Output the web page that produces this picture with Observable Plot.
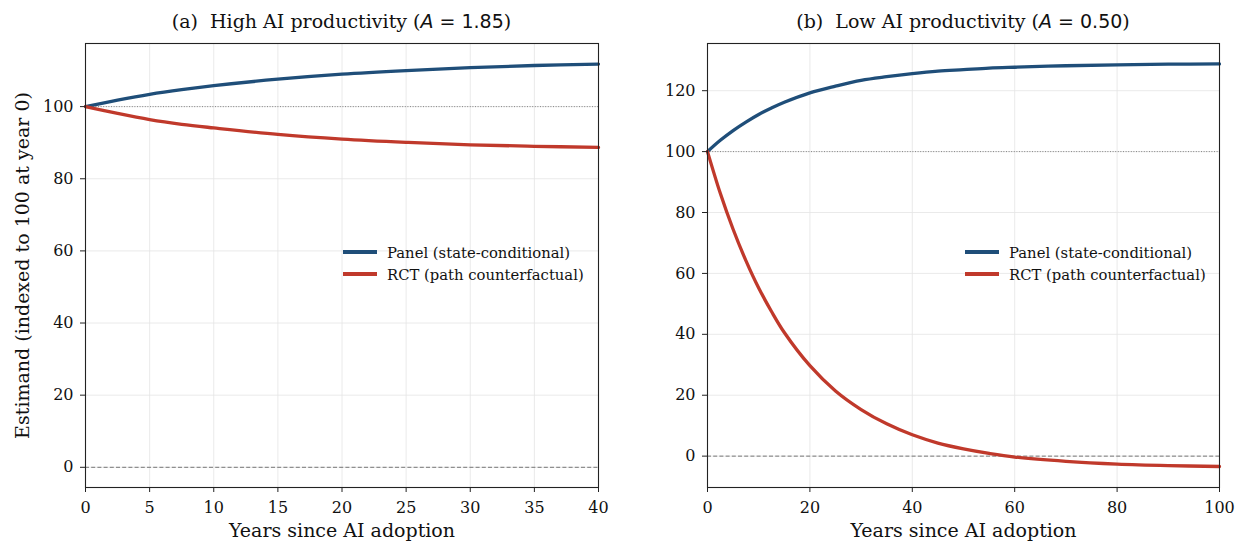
<!DOCTYPE html>
<html>
<head>
<meta charset="utf-8">
<script src="https://cdn.jsdelivr.net/npm/d3@7"></script>
<script src="https://cdn.jsdelivr.net/npm/@observablehq/plot@0.6"></script>
<style>
  html, body { margin: 0; padding: 0; background: #fff; }
  #wrap { position: relative; width: 1238px; height: 541px; overflow: hidden; font-family: 'DejaVu Serif', serif; }
  .pan { position: absolute; top: 0; }
  .title { position: absolute; top: 8px; font-size: 19px; text-align: center; white-space: pre; color: #111; line-height: 26px; }
  .sans { font-family: 'DejaVu Sans', sans-serif; }
  .legend { position: absolute; font-size: 14.8px; color: #111; }
  .legend .row { display: flex; align-items: center; height: 22px; }
  .legend .sw { width: 34px; height: 3.6px; margin-right: 10px; flex: none; }
</style>
</head>
<body>
<div id="wrap"></div>
<script>
// ---- data ----
const yearsA = [0, 2.5, 5, 7.5, 10, 15, 20, 25, 30, 35, 40];
const panelA = [100, 101.8, 103.4, 104.7, 105.8, 107.6, 109.0, 110.0, 110.8, 111.4, 111.8];
const rctA   = [100, 98.1, 96.4, 95.1, 94.1, 92.3, 91.0, 90.1, 89.4, 89.0, 88.7];

const yearsB = [0, 2.5, 5, 7.5, 10, 12.5, 15, 20, 25, 30, 35, 40, 45, 50, 55, 60, 70, 80, 90, 100];
const panelB = [100, 103.7, 106.9, 109.7, 112.2, 114.3, 116.2, 119.3, 121.5, 123.4, 124.6, 125.6, 126.4, 126.9, 127.4, 127.7, 128.2, 128.5, 128.7, 128.8];
const rctB   = [100, 86.3, 74.5, 64.2, 55.2, 47.5, 40.6, 29.7, 21.4, 15.3, 10.6, 7.0, 4.3, 2.4, 0.9, -0.3, -1.7, -2.6, -3.1, -3.4];

const xTicksA = [0, 5, 10, 15, 20, 25, 30, 35, 40];
const yTicksA = [0, 20, 40, 60, 80, 100];
const xTicksB = [0, 20, 40, 60, 80, 100];
const yTicksB = [0, 20, 40, 60, 80, 100, 120];

const seriesNames = ["Panel (state-conditional)", "RCT (path counterfactual)"];
const titleA = ["(a)  High AI productivity (", "A", " = 1.85", ")"];
const titleB = ["(b)  Low AI productivity (", "A", " = 0.50", ")"];
const xLabel = "Years since AI adoption";
const yLabel = "Estimand (indexed to 100 at year 0)";

const BLUE = "#1f4e79";
const RED = "#c0392b";

function toRows(years, a, b) {
  return years.map((t, i) => ({t, panel: a[i], rct: b[i]}));
}

function panel({rows, xDomain, yDomain, xTicks, yTicks, marginLeft, marginRight, ylabel}) {
  const marks = [
    Plot.gridX(xTicks, {stroke: "#e5e5e5", strokeOpacity: 1, strokeWidth: 0.8}),
    Plot.gridY(yTicks, {stroke: "#e5e5e5", strokeOpacity: 1, strokeWidth: 0.8}),
    Plot.ruleY([100], {stroke: "#777", strokeWidth: 0.9, strokeDasharray: "1,1.6"}),
    Plot.ruleY([0], {stroke: "#777", strokeWidth: 1, strokeDasharray: "4,2.2"}),
    Plot.line(rows, {x: "t", y: "panel", stroke: BLUE, strokeWidth: 3.3, curve: "catmull-rom"}),
    Plot.line(rows, {x: "t", y: "rct", stroke: RED, strokeWidth: 3.3, curve: "catmull-rom"}),
    Plot.frame({stroke: "#222", strokeWidth: 1.1}),
    Plot.axisX(xTicks, {tickSize: 5, tickPadding: 9, fontSize: 16, label: null, stroke: "#222"}),
    Plot.axisY(yTicks, {tickSize: 5, tickPadding: 7, fontSize: 16, label: null, stroke: "#222"}),
    Plot.text([xLabel], {frameAnchor: "bottom", lineAnchor: "middle", dy: 43, fontSize: 19, fill: "#111"})
  ];
  if (ylabel) marks.push(Plot.text([ylabel], {frameAnchor: "left", textAnchor: "middle", rotate: -90, dx: -63, fontSize: 19, fill: "#111"}));
  return Plot.plot({
    width: 619, height: 541,
    marginTop: 43, marginBottom: 54, marginLeft, marginRight,
    style: {fontFamily: "'DejaVu Serif', serif", fontSize: "16px", color: "#111", background: "transparent", overflow: "visible"},
    x: {domain: xDomain},
    y: {domain: yDomain},
    marks
  });
}

const wrap = document.getElementById("wrap");

function addPanel(left, svg) {
  const d = document.createElement("div");
  d.className = "pan";
  d.style.left = left + "px";
  d.appendChild(svg);
  wrap.appendChild(d);
}

addPanel(0, panel({rows: toRows(yearsA, panelA, rctA), xDomain: [0, 40], yDomain: [-5.6, 117.5],
  xTicks: xTicksA, yTicks: yTicksA, marginLeft: 85, marginRight: 21, ylabel: yLabel}));
addPanel(619, panel({rows: toRows(yearsB, panelB, rctB), xDomain: [0, 100], yDomain: [-10.3, 135.5],
  xTicks: xTicksB, yTicks: yTicksB, marginLeft: 88, marginRight: 19, ylabel: null}));

function addTitle(parts, left, width) {
  const t = document.createElement("div");
  t.className = "title";
  t.style.left = left + "px";
  t.style.width = width + "px";
  const s0 = document.createElement("span"); s0.textContent = parts[0];
  const s1 = document.createElement("span"); s1.className = "sans"; s1.style.fontStyle = "italic"; s1.textContent = parts[1];
  const s2 = document.createElement("span"); s2.className = "sans"; s2.textContent = parts[2];
  const s3 = document.createElement("span"); s3.textContent = parts[3];
  t.append(s0, s1, s2, s3);
  wrap.appendChild(t);
}
addTitle(titleA, 85, 513);
addTitle(titleB, 707, 512);

function addLegend(left, top) {
  const L = document.createElement("div");
  L.className = "legend";
  L.style.left = left + "px";
  L.style.top = top + "px";
  [BLUE, RED].forEach((c, i) => {
    const r = document.createElement("div"); r.className = "row";
    const sw = document.createElement("div"); sw.className = "sw"; sw.style.background = c;
    const tx = document.createElement("span"); tx.textContent = seriesNames[i];
    r.append(sw, tx); L.appendChild(r);
  });
  wrap.appendChild(L);
}
addLegend(343, 241);
addLegend(965, 241);
</script>
</body>
</html>
